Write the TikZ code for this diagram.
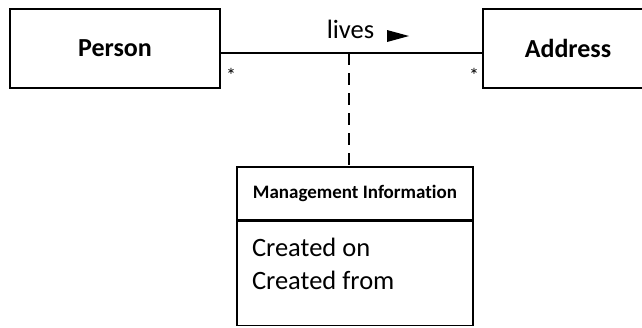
\documentclass[tikz,border=0pt]{standalone}
\usepackage{fontspec}
\setmainfont{Carlito}[Ligatures=NoCommon]
\usetikzlibrary{positioning}
\begin{document}
\begin{tikzpicture}[
    x=1pt,
    y=-1pt,
    line width=1.4pt,
    cls/.style={draw, minimum height=79pt, inner sep=0pt, font=\bfseries\fontsize{26}{30}\selectfont},
    mult/.style={font=\fontsize{20}{24}\selectfont, inner sep=0pt, anchor=base},
    infotitle/.style={draw, minimum width=236pt, minimum height=53pt, inner sep=0pt, font=\bfseries\fontsize{19}{22}\selectfont},
    infobody/.style={draw, minimum width=236pt, minimum height=104pt, inner sep=0pt},
    attrs/.style={align=left, inner sep=0pt, font=\fontsize{26.5}{33}\selectfont},
    note/.style={draw, dash pattern=on 12pt off 8pt},
]
    \useasboundingbox (0,0) rectangle (642,327);
    \clip (0,0) rectangle (642,327);

    \node[cls, minimum width=210pt] (person) at (115, 48.5) {Person};
    \node[cls, minimum width=170pt] (address) at (568, 48.5) {Address};

    \node[mult] (pstar) at (231, 82) {*};
    \node[mult] (astar) at (474, 82) {*};

    \node[anchor=base, inner sep=0pt, font=\fontsize{26.5}{30}\selectfont] (lives) at (350.5, 38) {lives};
    \fill (387, 30) -- (409, 36) -- (387, 42) -- cycle;

    \node[infotitle] (title) at (355, 193.5) {Management Information};
    \node[infobody, below=0pt of title] (body) {};
    \node[attrs, anchor=north west] (fields) at ([xshift=15pt, yshift=-17pt]body.north west) {Created on\\Created from};

    \draw ([yshift=-4.5pt]person.east) -- coordinate[pos=0.49] (mid) ([yshift=-4.5pt]address.west);
    \draw[note] (mid) -- (mid |- title.north);
\end{tikzpicture}
\end{document}
